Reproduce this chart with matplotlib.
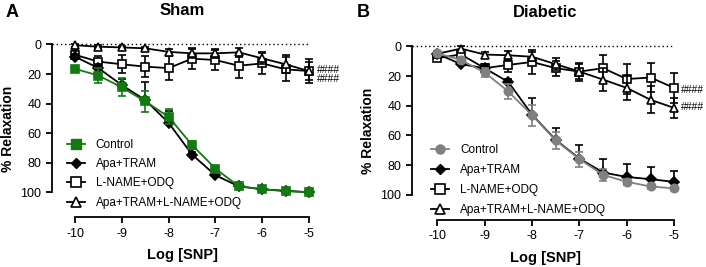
import numpy as np
import matplotlib
matplotlib.use("Agg")
import matplotlib.pyplot as plt
from matplotlib.lines import Line2D

plt.rcParams['font.family'] = ['Liberation Sans', 'DejaVu Sans']

# log [SNP] doses
log_snp = [-10, -9.5, -9, -8.5, -8, -7.5, -7, -6.5, -6, -5.5, -5]

# Sham
sham_control = [16.5, 21, 29, 38.5, 49, 68, 84, 96, 98, 99.3, 100]
sham_control_err = [2, 5, 6, 7, 5, 3, 2, 1.5, 1, 1, 1]
sham_apa = [8.3, 16, 27.5, 37.6, 53, 74.5, 88.5, 96, 98, 99, 100]
sham_apa_err = [2, 3, 4, 12, 8, 2, 2, 1, 1, 1, 1]
sham_lname = [7, 11.6, 13.4, 15, 16, 9.6, 10.5, 14.4, 12.8, 16.8, 18]
sham_lname_err = [3, 4, 6, 7, 8, 7, 7, 8, 7, 8, 8]
sham_all = [0.5, 1.5, 2, 2.6, 5, 6, 6, 5.3, 9.4, 13.4, 18]
sham_all_err = [1, 1, 1, 1, 2, 3, 3, 3, 4, 6, 6]

# Diabetic
diab_control = [4.7, 9.2, 17.6, 30.4, 46.4, 63.4, 76, 86.6, 91.3, 94.4, 95.7]
diab_control_err = [1, 2, 3, 5, 7, 6, 5, 4, 2, 1.5, 1]
diab_apa = [5, 12, 14.7, 24, 46, 63, 75.6, 85, 88, 89.5, 91.3]
diab_apa_err = [1, 2, 2, 2, 11, 8, 9, 9, 9, 8, 7.5]
diab_lname = [8, 5.4, 14.7, 12.5, 10.5, 14.7, 17, 14.7, 22, 21, 28]
diab_lname_err = [2, 2, 3, 5, 8, 5, 6, 9, 10, 10, 10]
diab_all = [5, 1.5, 5.5, 6, 7, 12, 17, 22.4, 28, 36, 41.5]
diab_all_err = [2, 1.5, 2, 3, 3, 4, 5, 8, 8, 9, 7]

labels = ["Control", "Apa+TRAM", "L-NAME+ODQ", "Apa+TRAM+L-NAME+ODQ"]
green = "#117a11"
grey = "#808080"

fig = plt.figure(figsize=(7.06, 2.67), dpi=100)
axA = fig.add_axes([0.0732, 0.186, 0.371, 0.664])
axB = fig.add_axes([0.5831, 0.176, 0.3786, 0.667])


def series(ax, y, err, marker, color, face, one_sided=False, z=2):
    e = np.array(err)
    if one_sided:
        yerr = [e, np.zeros_like(e)]
    else:
        yerr = e
    ms = 5 if marker == "D" else 6
    ax.errorbar(log_snp, y, yerr=yerr, color=color, marker=marker, ms=ms,
                mfc=face, mec=color, mew=1.2, lw=1.3, elinewidth=1.2,
                capsize=3, capthick=1.2, zorder=z)


def style(ax, xleft):
    ax.set_xlim(xleft, -4.9)
    ax.set_ylim(117, -3)
    ax.spines['top'].set_visible(False)
    ax.spines['right'].set_visible(False)
    ax.spines['left'].set_bounds(0, 100)
    ax.spines['bottom'].set_bounds(-10, -5)
    for s in ['left', 'bottom']:
        ax.spines[s].set_linewidth(1.3)
    ax.set_yticks([0, 20, 40, 60, 80, 100])
    ax.set_xticks([-10, -9, -8, -7, -6, -5])
    ax.set_xticklabels(["-10", "-9", "-8", "-7", "-6", "-5"])
    ax.tick_params(width=1.3, length=4, labelsize=9)
    ax.plot([xleft, -5], [0, 0], ls=(0, (1, 2)), color="black", lw=1, zorder=1)
    ax.set_xlabel("Log [SNP]", fontsize=10.5, fontweight="bold", labelpad=6)
    ax.set_ylabel("% Relaxation", fontsize=10, fontweight="bold", labelpad=4)


def legend(ax, fc, mk, anchor, spacing):
    handles = [
        Line2D([], [], color=fc, marker=mk, ms=6.5, mfc=fc, mec=fc, lw=1.3),
        Line2D([], [], color="black", marker="D", ms=5.5, mfc="black", lw=1.3),
        Line2D([], [], color="black", marker="s", ms=6.5, mfc="white", mew=1.2, lw=1.3),
        Line2D([], [], color="black", marker="^", ms=7, mfc="white", mew=1.2, lw=1.3),
    ]
    ax.legend(handles, labels, loc="upper left", bbox_to_anchor=anchor,
              frameon=False, fontsize=8.5, handlelength=1.5, handletextpad=0.95,
              labelspacing=spacing, borderaxespad=0)


# Panel A - Sham
series(axA, sham_lname, sham_lname_err, "s", "black", "white", z=3)
series(axA, sham_all, sham_all_err, "^", "black", "white", z=4)
series(axA, sham_apa, sham_apa_err, "D", "black", "black", one_sided=True, z=5)
series(axA, sham_control, sham_control_err, "s", green, green, z=6)
style(axA, -10.5)
axA.text(-4.82, 17.3, "####", fontsize=7.5, va="center", ha="left", clip_on=False)
axA.text(-4.82, 23.3, "####", fontsize=7.5, va="center", ha="left", clip_on=False)
legend(axA, green, "s", (0.04, 0.47), 0.62)
axA.set_title("Sham", fontsize=12, fontweight="bold", pad=18)

# Panel B - Diabetic
series(axB, diab_lname, diab_lname_err, "s", "black", "white", z=3)
series(axB, diab_all, diab_all_err, "^", "black", "white", z=4)
series(axB, diab_apa, diab_apa_err, "D", "black", "black", one_sided=True, z=5)
series(axB, diab_control, diab_control_err, "o", grey, grey, z=6)
style(axB, -10.54)
axB.text(-4.86, 29.3, "####", fontsize=7.5, va="center", ha="left", clip_on=False)
axB.text(-4.86, 40.6, "####", fontsize=7.5, va="center", ha="left", clip_on=False)
legend(axB, grey, "o", (0.055, 0.455), 0.7)
axB.set_title("Diabetic", fontsize=12, fontweight="bold", pad=18)

fig.text(0.008, 0.955, "A", fontsize=13, fontweight="bold", va="center")
fig.text(0.505, 0.955, "B", fontsize=13, fontweight="bold", va="center")

fig.savefig("out.png", dpi=100)
